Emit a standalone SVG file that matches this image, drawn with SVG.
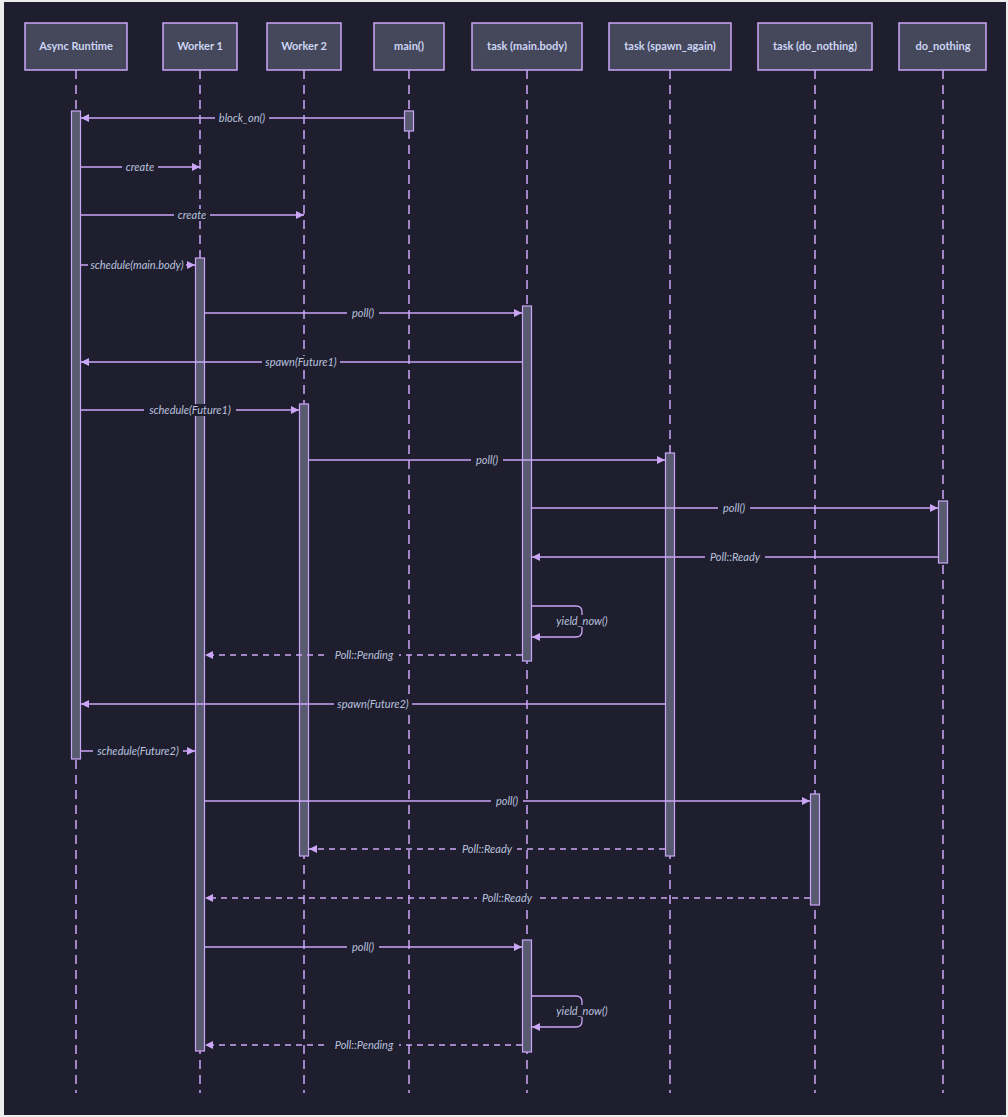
<svg xmlns="http://www.w3.org/2000/svg" width="1008" height="1117" viewBox="0 0 1008 1117">
<defs>
<style>
.frame{fill:#ededed}
.bg{fill:#1e1e2e}
.actor{fill:#45475a;stroke:#cba6f7;stroke-width:1.5}
.atext{fill:#cdd6f4;font-family:Lato,"Noto Sans",sans-serif;font-size:11px;font-weight:bold;text-anchor:middle}
.life{stroke:#cba6f7;stroke-width:1.5;stroke-dasharray:9 6;fill:none}
.act{fill:#585b70;stroke:#cba6f7;stroke-width:1.2}
.msg{stroke:#cba6f7;stroke-width:1.3;fill:none}
.dash{stroke-dasharray:6 5}
.lbg{fill:#1e1e2e}
.ltext{fill:#bac2de;font-family:Lato,"Noto Sans",sans-serif;font-size:11px;font-style:italic;text-anchor:middle}
</style>
<marker id="ah" viewBox="0 0 10 10" refX="10" refY="5" markerWidth="8" markerHeight="8" markerUnits="userSpaceOnUse" orient="auto">
<path d="M0,0 L10,5 L0,10 z" fill="#cba6f7"/>
</marker>
</defs>
<rect class="frame" x="0" y="0" width="1008" height="1117"/>
<rect class="bg" x="4" y="2" width="1002" height="1113"/>

<g id="lifelines">
<line class="life" x1="76" y1="70" x2="76" y2="1093"/>
<line class="life" x1="200" y1="70" x2="200" y2="1093"/>
<line class="life" x1="304" y1="70" x2="304" y2="1093"/>
<line class="life" x1="409" y1="70" x2="409" y2="1093"/>
<line class="life" x1="527" y1="70" x2="527" y2="1093"/>
<line class="life" x1="670" y1="70" x2="670" y2="1093"/>
<line class="life" x1="815" y1="70" x2="815" y2="1093"/>
<line class="life" x1="943" y1="70" x2="943" y2="1093"/>
</g>

<g id="actor-async-runtime">
<rect class="actor" x="25" y="23" width="102" height="47"/>
<text class="atext" x="76" y="50">Async Runtime</text>
<rect class="act" x="71.5" y="111" width="9" height="648"/>
</g>
<g id="actor-worker1">
<rect class="actor" x="163" y="23" width="74" height="47"/>
<text class="atext" x="200" y="50">Worker 1</text>
<rect class="act" x="195.5" y="258" width="9" height="793"/>
</g>
<g id="actor-worker2">
<rect class="actor" x="267" y="23" width="74" height="47"/>
<text class="atext" x="304" y="50">Worker 2</text>
<rect class="act" x="299.5" y="404" width="9" height="452"/>
</g>
<g id="actor-main">
<rect class="actor" x="374" y="23" width="70" height="47"/>
<text class="atext" x="409" y="50">main()</text>
<rect class="act" x="404.5" y="111" width="9" height="20"/>
</g>
<g id="actor-task-main-body">
<rect class="actor" x="472" y="23" width="110" height="47"/>
<text class="atext" x="527" y="50">task (main.body)</text>
<rect class="act" x="522.5" y="306" width="9" height="355"/>
<rect class="act" x="522.5" y="940" width="9" height="112"/>
</g>
<g id="actor-task-spawn-again">
<rect class="actor" x="609" y="23" width="122" height="47"/>
<text class="atext" x="670" y="50">task (spawn_again)</text>
<rect class="act" x="665.5" y="453" width="9" height="403"/>
</g>
<g id="actor-task-do-nothing">
<rect class="actor" x="758" y="23" width="114" height="47"/>
<text class="atext" x="815" y="50">task (do_nothing)</text>
<rect class="act" x="810.5" y="794" width="9" height="111"/>
</g>
<g id="actor-do-nothing">
<rect class="actor" x="899" y="23" width="87" height="47"/>
<text class="atext" x="943" y="50">do_nothing</text>
<rect class="act" x="938.5" y="501" width="9" height="62"/>
</g>

<g id="connectors">
<line class="msg" x1="405" y1="118" x2="81" y2="118" marker-end="url(#ah)"/>
<line class="msg" x1="81" y1="167" x2="200" y2="167" marker-end="url(#ah)"/>
<line class="msg" x1="81" y1="215" x2="304" y2="215" marker-end="url(#ah)"/>
<line class="msg" x1="81" y1="265" x2="195" y2="265" marker-end="url(#ah)"/>
<line class="msg" x1="205" y1="313" x2="522" y2="313" marker-end="url(#ah)"/>
<line class="msg" x1="522" y1="362" x2="81" y2="362" marker-end="url(#ah)"/>
<line class="msg" x1="81" y1="410" x2="299" y2="410" marker-end="url(#ah)"/>
<line class="msg" x1="309" y1="460" x2="665" y2="460" marker-end="url(#ah)"/>
<line class="msg" x1="532" y1="508" x2="938" y2="508" marker-end="url(#ah)"/>
<line class="msg" x1="938" y1="557" x2="532" y2="557" marker-end="url(#ah)"/>
<path class="msg" d="M532,606 H576 Q582,606 582,612 V631 Q582,637 576,637 H532" marker-end="url(#ah)"/>
<line class="msg dash" x1="522" y1="655" x2="205" y2="655" marker-end="url(#ah)"/>
<line class="msg" x1="665" y1="704" x2="81" y2="704" marker-end="url(#ah)"/>
<line class="msg" x1="81" y1="751" x2="195" y2="751" marker-end="url(#ah)"/>
<line class="msg" x1="205" y1="801" x2="810" y2="801" marker-end="url(#ah)"/>
<line class="msg dash" x1="665" y1="849" x2="309" y2="849" marker-end="url(#ah)"/>
<line class="msg dash" x1="810" y1="898" x2="205" y2="898" marker-end="url(#ah)"/>
<line class="msg" x1="205" y1="947" x2="522" y2="947" marker-end="url(#ah)"/>
<path class="msg" d="M532,996 H576 Q582,996 582,1002 V1021 Q582,1027 576,1027 H532" marker-end="url(#ah)"/>
<line class="msg dash" x1="522" y1="1045" x2="205" y2="1045" marker-end="url(#ah)"/>
</g>

<g id="labels">
<rect class="lbg" x="215" y="112" width="54" height="12"/><text class="ltext" x="242" y="122">block_on()</text>
<rect class="lbg" x="122" y="161" width="36" height="12"/><text class="ltext" x="140" y="171">create</text>
<rect class="lbg" x="174" y="209" width="36" height="12"/><text class="ltext" x="192" y="219">create</text>
<rect class="lbg" x="88" y="259" width="98" height="12"/><text class="ltext" x="137" y="269">schedule(main.body)</text>
<rect class="lbg" x="347" y="307" width="32" height="12"/><text class="ltext" x="363" y="317">poll()</text>
<rect class="lbg" x="262" y="356" width="78" height="12"/><text class="ltext" x="301" y="366">spawn(Future1)</text>
<rect class="lbg" x="144" y="404" width="92" height="12"/><text class="ltext" x="190" y="414">schedule(Future1)</text>
<rect class="lbg" x="471" y="454" width="32" height="12"/><text class="ltext" x="487" y="464">poll()</text>
<rect class="lbg" x="718" y="502" width="32" height="12"/><text class="ltext" x="734" y="512">poll()</text>
<rect class="lbg" x="705" y="551" width="60" height="12"/><text class="ltext" x="735" y="561">Poll::Ready</text>
<rect class="lbg" x="553" y="615" width="58" height="12"/><text class="ltext" x="582" y="625">yield_now()</text>
<rect class="lbg" x="329" y="649" width="70" height="12"/><text class="ltext" x="364" y="659">Poll::Pending</text>
<rect class="lbg" x="334" y="698" width="78" height="12"/><text class="ltext" x="373" y="708">spawn(Future2)</text>
<rect class="lbg" x="93" y="745" width="90" height="12"/><text class="ltext" x="138" y="755">schedule(Future2)</text>
<rect class="lbg" x="491" y="795" width="32" height="12"/><text class="ltext" x="507" y="805">poll()</text>
<rect class="lbg" x="457" y="843" width="60" height="12"/><text class="ltext" x="487" y="853">Poll::Ready</text>
<rect class="lbg" x="477" y="892" width="60" height="12"/><text class="ltext" x="507" y="902">Poll::Ready</text>
<rect class="lbg" x="347" y="941" width="32" height="12"/><text class="ltext" x="363" y="951">poll()</text>
<rect class="lbg" x="553" y="1005" width="58" height="12"/><text class="ltext" x="582" y="1015">yield_now()</text>
<rect class="lbg" x="329" y="1039" width="70" height="12"/><text class="ltext" x="364" y="1049">Poll::Pending</text>
</g>
</svg>
